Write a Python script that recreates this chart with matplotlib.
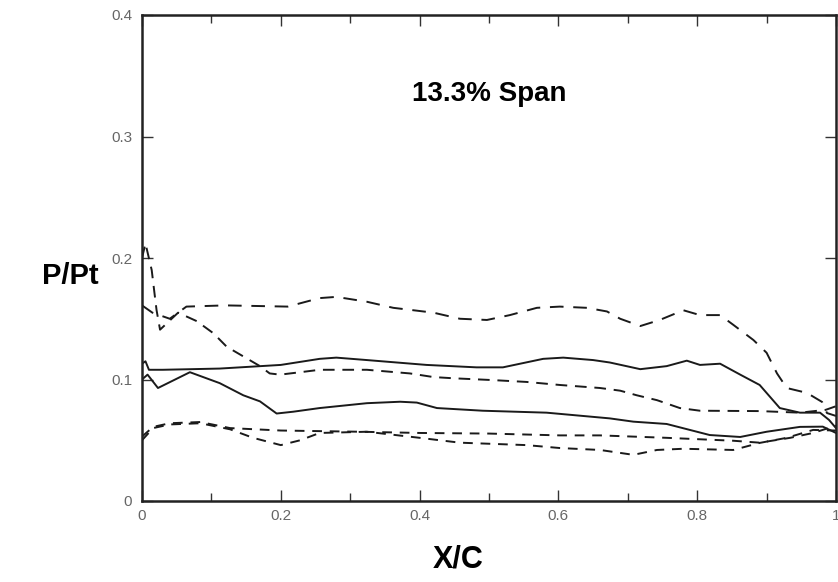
import matplotlib.pyplot as plt
from matplotlib.ticker import MultipleLocator

# curves, x/c vs P/Pt
xA = [0, 0.015, 0.04, 0.064, 0.12, 0.21, 0.256, 0.28, 0.324, 0.362, 0.42, 0.458, 0.497, 0.53, 0.569,
      0.602, 0.641, 0.67, 0.689, 0.718, 0.746, 0.78, 0.804, 0.833, 0.852, 0.881, 0.9, 0.915, 0.929,
      0.958, 0.98, 0.987, 1.0]
yA = [0.161, 0.155, 0.15, 0.16, 0.161, 0.16, 0.167, 0.168, 0.164, 0.159, 0.155, 0.15, 0.149, 0.153,
      0.159, 0.16, 0.159, 0.156, 0.15, 0.144, 0.149, 0.157, 0.153, 0.153, 0.145, 0.1325, 0.122, 0.105,
      0.093, 0.089, 0.0815, 0.0724, 0.07]

xB = [0, 0.005, 0.014, 0.018, 0.021, 0.026, 0.052, 0.079, 0.103, 0.122, 0.146, 0.17, 0.184, 0.199,
      0.228, 0.256, 0.324, 0.386, 0.42, 0.449, 0.506, 0.554, 0.602, 0.66, 0.689, 0.713, 0.742, 0.775,
      0.804, 0.89, 0.948, 0.985, 1.0]
yB = [0.2, 0.212, 0.19, 0.171, 0.157, 0.141, 0.155, 0.148, 0.138, 0.127, 0.119, 0.111, 0.105, 0.104,
      0.106, 0.108, 0.108, 0.105, 0.102, 0.101, 0.0995, 0.098, 0.0955, 0.093, 0.0908, 0.087, 0.083,
      0.0765, 0.0743, 0.074, 0.0727, 0.075, 0.078]

xC = [0, 0.005, 0.01, 0.03, 0.112, 0.2, 0.256, 0.28, 0.324, 0.41, 0.482, 0.52, 0.578, 0.607, 0.65,
      0.674, 0.718, 0.756, 0.785, 0.804, 0.833, 0.862, 0.89, 0.919, 0.948, 0.977, 0.99, 1.0]
yC = [0.113, 0.115, 0.108, 0.108, 0.109, 0.112, 0.117, 0.118, 0.116, 0.112, 0.11, 0.11, 0.117, 0.118,
      0.116, 0.114, 0.1085, 0.111, 0.1155, 0.112, 0.113, 0.104, 0.0955, 0.0765, 0.0727, 0.0727,
      0.0667, 0.06]

xD = [0, 0.008, 0.023, 0.069, 0.112, 0.146, 0.17, 0.194, 0.218, 0.256, 0.324, 0.372, 0.396, 0.425,
      0.491, 0.583, 0.674, 0.708, 0.756, 0.818, 0.862, 0.9, 0.948, 0.981, 1.0]
yD = [0.1, 0.104, 0.093, 0.106, 0.097, 0.087, 0.082, 0.072, 0.0735, 0.0765, 0.0805, 0.0817, 0.081,
      0.0765, 0.0743, 0.0727, 0.068, 0.0653, 0.0634, 0.0543, 0.0527, 0.057, 0.061, 0.0612, 0.056]

xE = [0, 0.016, 0.04, 0.084, 0.127, 0.2, 0.314, 0.4, 0.5, 0.602, 0.66, 0.756, 0.852, 0.89, 0.934,
      0.967, 1.0]
yE = [0.053, 0.061, 0.064, 0.065, 0.06, 0.058, 0.057, 0.056, 0.0555, 0.054, 0.054, 0.052, 0.0496,
      0.048, 0.052, 0.056, 0.062]

xF = [0, 0.016, 0.04, 0.084, 0.127, 0.16, 0.2, 0.228, 0.256, 0.324, 0.4, 0.458, 0.554, 0.602, 0.66,
      0.708, 0.742, 0.78, 0.852, 0.89, 0.929, 0.967, 1.0]
yF = [0.05, 0.06, 0.063, 0.064, 0.059, 0.052, 0.046, 0.05, 0.056, 0.057, 0.052, 0.048, 0.046, 0.0436,
      0.042, 0.038, 0.042, 0.043, 0.042, 0.0478, 0.052, 0.0585, 0.058]

xticks = [0, 0.2, 0.4, 0.6, 0.8, 1]
xticklabels = ['0', '0.2', '0.4', '0.6', '0.8', '1']
yticks = [0, 0.1, 0.2, 0.3, 0.4]
yticklabels = ['0', '0.1', '0.2', '0.3', '0.4']

fig = plt.figure(figsize=(8.38, 5.82), dpi=100)
ax = fig.add_axes([142 / 838, 1 - 501 / 582, 694 / 838, 486 / 582])

lc = '#1a1a1a'
ax.plot(xA, yA, color=lc, lw=1.4, ls=(0, (7, 5)))
ax.plot(xB, yB, color=lc, lw=1.4, ls=(0, (6, 4)))
ax.plot(xC, yC, color=lc, lw=1.4, ls='-')
ax.plot(xD, yD, color=lc, lw=1.4, ls='-')
ax.plot(xE, yE, color=lc, lw=1.4, ls=(0, (5, 4)))
ax.plot(xF, yF, color=lc, lw=1.4, ls=(0, (5, 4)))

ax.set_xlim(0, 1)
ax.set_ylim(0, 0.4)
ax.set_xticks(xticks)
ax.set_xticklabels(xticklabels)
ax.set_yticks(yticks)
ax.set_yticklabels(yticklabels)
ax.xaxis.set_minor_locator(MultipleLocator(0.1))
ax.tick_params(which='both', direction='in', top=True, right=True, colors='#333333',
               labelcolor='#666666', labelsize=11)
ax.tick_params(axis='y', pad=7)
ax.tick_params(axis='x', pad=6)
ax.tick_params(which='major', length=8, width=1)
ax.tick_params(which='minor', length=5.5, width=1)
for t in ax.get_xticklabels() + ax.get_yticklabels():
    t.set_family('Liberation Sans')
for s in ax.spines.values():
    s.set_linewidth(1.8)
    s.set_color('#222222')

ax.text(0.5, 0.335, '13.3% Span', fontsize=20, fontweight='bold', family='Liberation Sans',
        ha='center', va='center')
fig.text(70 / 838, 1 - 276 / 582, 'P/Pt', fontsize=21, fontweight='bold', family='Liberation Sans',
         ha='center', va='center')
fig.text(458 / 838, 1 - 560 / 582, 'X/C', fontsize=22, fontweight='bold', family='Liberation Sans',
         ha='center', va='center')

fig.savefig('out.png', dpi=100)
